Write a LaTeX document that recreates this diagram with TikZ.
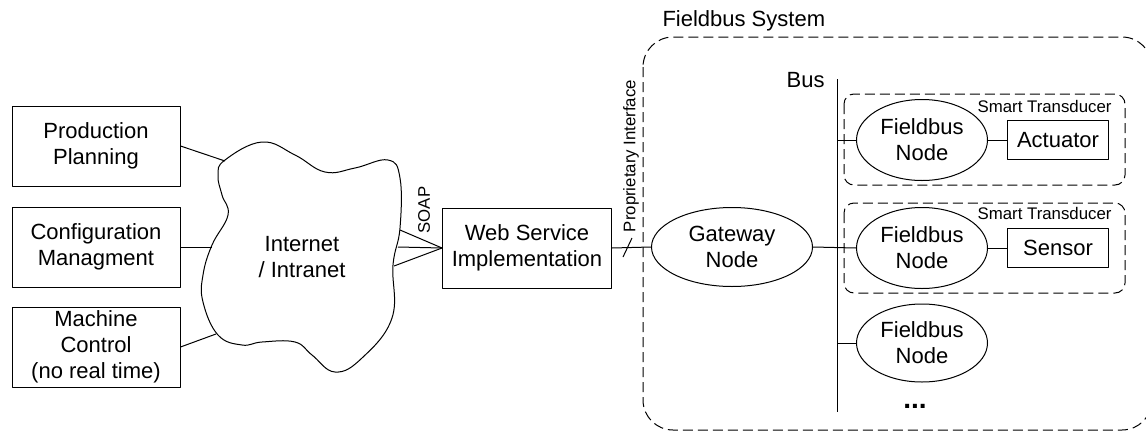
\documentclass[tikz,border=0pt]{standalone}
\usepackage{fontspec}
\setmainfont{Liberation Sans}
\usetikzlibrary{shapes.geometric}

\begin{document}
\begin{tikzpicture}[x=0.5pt, y=-0.5pt, line width=0.5pt, line join=round,
  testo/.style={font=\fontsize{11}{13}\selectfont},
  piccolo/.style={font=\fontsize{8.4}{10}\selectfont},
  box/.style={draw, rectangle, inner sep=0pt, align=center, testo},
  ell/.style={draw, ellipse, inner sep=0pt, align=center, testo},
  tratt/.style={dash pattern=on 5pt off 2.5pt}]

\useasboundingbox (0,0) rectangle (1146,434);

% applicazioni a sinistra
\node[box, minimum width=84pt, minimum height=40pt] (pp) at (96,146) {Production\\Planning};
\node[box, minimum width=84pt, minimum height=40pt] (cm) at (96,247) {Configuration\\Managment};
\node[box, minimum width=84pt, minimum height=40pt] (mc) at (96,347) {Machine\\Control\\(no real time)};

% nuvola internet
\draw plot[smooth cycle, tension=0.7] coordinates {
  (225,160) (262,142) (295,155) (325,172) (355,168) (388,160) (400,178)
  (400,228) (393,265) (392,318) (362,358) (335,372) (312,355) (295,342)
  (262,342) (242,345) (218,335) (203,302) (203,275) (212,245) (228,215)
  (222,195) (218,175)};
\node[align=center, testo, inner sep=0pt] (inet) at (302,257) {Internet\\/ Intranet};

\coordinate (c1) at (225,161);
\coordinate (c2) at (212,247);
\coordinate (c3) at (216,334);
\draw (pp.east) -- (c1);
\draw (cm.east) -- (c2);
\draw (mc.east) -- (c3);

% web service e SOAP
\node[box, minimum width=84.5pt, minimum height=40pt] (ws) at (527,248) {Web Service\\Implementation};
\coordinate (s1) at (400,230);
\coordinate (s2) at (398,247);
\coordinate (s3) at (394,266);
\draw (ws.west) -- (s1);
\draw (ws.west) -- (s2);
\draw (ws.west) -- (s3);
\node[piccolo, rotate=90, inner sep=0pt] (soap) at (424,210) {SOAP};

% sistema fieldbus
\draw[tratt, rounded corners=15pt] (643,37) rectangle (1152,430);
\node[testo, anchor=west, inner sep=0pt] (fbs) at (662,21) {Fieldbus System};

\node[ell, minimum width=80.5pt, minimum height=39.5pt] (gw) at (732,247) {Gateway\\Node};
\draw (ws.east) -- (gw.west);
\draw (623,257) -- (632,238);
\node[piccolo, rotate=90, inner sep=0pt] (pi) at (631,156) {Proprietary Interface};

% bus
\coordinate (bustop) at (837,79);
\coordinate (busbot) at (837,412);
\draw (bustop) -- (busbot);
\node[testo, anchor=east, inner sep=0pt] (buslbl) at (825,80) {Bus};

% smart transducer
\draw[tratt, rounded corners=5pt] (844,94) rectangle (1125,185);
\draw[tratt, rounded corners=5pt] (844,203) rectangle (1125,293);
\node[piccolo, anchor=east, inner sep=0pt] (st1) at (1112,106) {Smart Transducer};
\node[piccolo, anchor=east, inner sep=0pt] (st2) at (1112,213) {Smart Transducer};

% nodi fieldbus
\node[ell, minimum width=65.5pt, minimum height=40.5pt] (fb1) at (922,140) {Fieldbus\\Node};
\node[ell, minimum width=65.5pt, minimum height=40.5pt] (fb2) at (922,248) {Fieldbus\\Node};
\node[ell, minimum width=65.5pt, minimum height=39pt] (fb3) at (922,343) {Fieldbus\\Node};
\node[box, minimum width=50.5pt, minimum height=19.5pt] (act) at (1058,140) {Actuator};
\node[box, minimum width=50.5pt, minimum height=19.5pt] (sen) at (1058,248) {Sensor};

\draw (fb1.west) -- (fb1.west -| bustop);
\draw (gw.east) -- (fb2.west);
\draw (fb3.west) -- (fb3.west -| bustop);
\draw (fb1.east) -- (act.west);
\draw (fb2.east) -- (sen.west);

\node[font=\fontsize{14}{14}\selectfont\bfseries, inner sep=0pt] (dots) at (915,406) {...};

\end{tikzpicture}
\end{document}
